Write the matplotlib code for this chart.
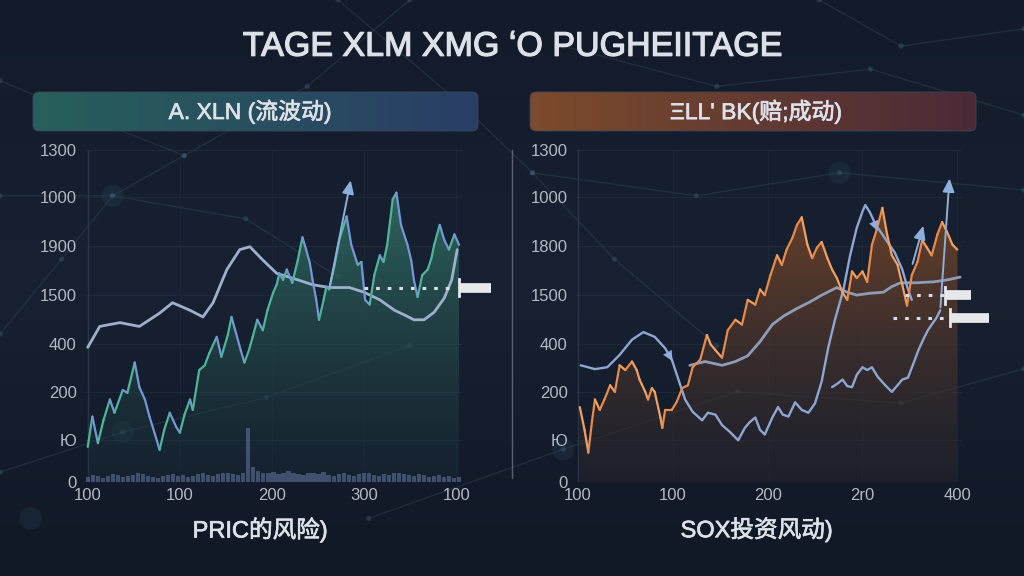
import numpy as np
import matplotlib
matplotlib.use("Agg")
import matplotlib.pyplot as plt
import matplotlib.patheffects as pe
from matplotlib.collections import LineCollection
from matplotlib.patches import FancyBboxPatch, Polygon
from matplotlib.colors import LinearSegmentedColormap

plt.rcParams["font.family"] = ["Liberation Sans", "Noto Sans CJK SC", "DejaVu Sans"]

# ---- text ----
title = "TAGE XLM XMG \u02BBO PUGHEIITAGE"
left_header = "A. XLN (流波动)"
right_header = "ΞLL' BK(赔;成动)"
left_footer = "PRIC的风险)"
right_footer = "SOX投资风动)"

y_ticks = [0, 44, 95, 146, 197, 249, 300, 350]
left_ylabels = ["0", "Ю", "200", "400", "1500", "1900", "1000", "1300"]
right_ylabels = ["0", "Ю", "200", "400", "1500", "1800", "1000", "1300"]
x_ticks = [0, 100, 200, 300, 400]
left_xlabels = ["100", "100", "200", "300", "100"]
right_xlabels = ["100", "100", "200", "2r0", "400"]

# ---- left panel data ----
left_price_x = [0, 5, 11, 17, 24, 29, 38, 43, 51, 56,
                62, 67, 73, 78, 83, 89, 96, 100, 105, 111,
                114, 121, 127, 132, 140, 145, 152, 156, 162, 166,
                170, 175, 179, 184, 190, 195, 201, 205, 208, 212,
                216, 222, 228, 233, 237, 241, 244, 248, 251, 256,
                259, 262, 268, 273, 278, 281, 286, 293, 297, 301,
                306, 311, 317, 321, 325, 331, 335, 340, 347, 351,
                354, 358, 363, 369, 373, 376, 382, 387, 392, 398,
                403]
left_price_y = [37, 69, 41, 65, 87, 73, 97, 94, 126, 100,
                87, 69, 50, 34, 55, 73, 58, 52, 71, 87,
                76, 118, 123, 136, 153, 132, 155, 174, 153, 139,
                126, 139, 153, 171, 160, 181, 199, 208, 220, 213,
                224, 210, 234, 258, 245, 231, 213, 192, 171, 192,
                206, 203, 229, 255, 271, 280, 250, 229, 232, 192,
                187, 218, 239, 232, 250, 298, 305, 271, 250, 234,
                213, 195, 218, 224, 236, 250, 271, 255, 245, 261,
                250]

left_trend_x = [0, 13, 35, 56, 78, 92, 111, 125, 136, 151,
                165, 176, 190, 205, 222, 244, 262, 284, 300, 317,
                333, 344, 354, 365, 376, 387, 395, 401]
left_trend_y = [142, 164, 168, 164, 178, 189, 181, 174, 189, 224,
                245, 248, 234, 220, 215, 208, 205, 205, 200, 192,
                181, 176, 171, 171, 179, 194, 213, 245]

left_volume = [5, 7, 6, 4, 6, 8, 7, 5, 6, 7,
               9, 8, 6, 5, 4, 6, 7, 8, 6, 7,
               5, 6, 8, 9, 7, 6, 8, 10, 9, 8,
               7, 9, 57, 16, 12, 10, 9, 11, 8, 10,
               12, 9, 8, 7, 10, 9, 8, 11, 7, 6,
               8, 9, 7, 6, 8, 10, 9, 7, 6, 8,
               7, 9, 10, 8, 7, 6, 8, 7, 5, 6,
               7, 5, 6, 4, 5]

left_arrow = [(262, 203), (286, 321)]
left_dotted = [(300, 395), 205]
left_tag = [(403, 438), 205]

# ---- right panel data ----
right_price_x = [2, 7, 11, 15, 18, 23, 28, 34, 39, 44,
                 50, 57, 62, 65, 71, 74, 78, 81, 87, 89,
                 92, 99, 104, 110, 116, 121, 129, 136, 140, 145,
                 152, 158, 166, 173, 179, 187, 192, 197, 203, 210,
                 215, 220, 226, 231, 236, 242, 247, 252, 257, 263,
                 268, 273, 279, 284, 289, 294, 300, 305, 310, 315,
                 321, 326, 331, 337, 342, 347, 352, 358, 363, 368,
                 373, 379, 384, 389, 395, 400]
right_price_y = [79, 55, 31, 65, 87, 76, 87, 102, 95, 123,
                 118, 127, 118, 108, 95, 87, 99, 95, 68, 57,
                 76, 76, 84, 99, 102, 121, 129, 155, 145, 139,
                 131, 160, 171, 166, 192, 187, 203, 197, 218, 239,
                 229, 245, 257, 271, 279, 250, 236, 247, 253, 236,
                 224, 215, 200, 192, 222, 215, 222, 211, 250, 266,
                 289, 261, 239, 229, 208, 186, 218, 232, 255, 247,
                 239, 261, 274, 264, 250, 245]

wave_x = [3, 18, 31, 44, 57, 69, 81, 92, 99, 108,
          113, 121, 131, 137, 145, 152, 160, 169, 176, 181,
          187, 192, 197, 205, 211, 216, 222, 229, 236, 243,
          250, 257, 264, 271, 280, 287, 294, 300, 303, 308,
          314, 321, 327, 334, 342, 348, 352]
wave_y = [123, 119, 121, 134, 150, 158, 153, 141, 129, 102,
          87, 74, 65, 73, 71, 60, 53, 44, 57, 63,
          68, 55, 50, 68, 79, 71, 69, 84, 76, 73,
          83, 106, 142, 171, 203, 239, 268, 285, 292, 284,
          271, 261, 252, 242, 224, 203, 192]

low_x = [268, 274, 279, 284, 289, 294, 300, 305, 310, 316,
         324, 331, 337, 342, 348, 353, 359, 364, 369, 378, 382]
low_y = [100, 104, 108, 101, 100, 113, 121, 118, 121, 111,
         102, 95, 102, 108, 110, 123, 139, 150, 160, 173, 181]

avg_x = [118, 134, 152, 166, 179, 192, 205, 217, 231, 245,
         257, 273, 284, 294, 308, 322, 331, 340, 356, 375,
         389, 403]
avg_y = [123, 127, 123, 127, 133, 148, 166, 175, 183, 190,
         197, 205, 200, 197, 199, 200, 206, 210, 210, 211,
         213, 216]

right_arrows = [[(382, 181), (392, 323)], [(352, 227), (365, 273)]]
right_heads = [[(92, 141), (101, 125)], [(308, 284), (317, 262)]]
right_dotted = [[(345, 387), 197], [(332, 387), 173]]
right_tags = [[(387, 414), 197], [(392, 433), 173]]

# ---- colours ----
BG = "#131a28"
TEXT = "#dde1e8"
TICK = "#b3b9c4"
CURVE = "#9eb0cc"
BLUE = "#7596d8"
TEAL = "#4fb59a"
ORANGE = "#e88a4a"

semi_fx = [pe.withStroke(linewidth=0.5, foreground=TEXT)]

fig = plt.figure(figsize=(10.24, 5.76), dpi=100)
fig.patch.set_facecolor(BG)

# background layer in figure fractions
bg = fig.add_axes([0, 0, 1, 1], zorder=0)
bg.axis("off")
vgrad = np.linspace(0, 1, 200).reshape(-1, 1)
bg.imshow(vgrad, extent=[0, 1, 0, 1], aspect="auto", origin="lower",
          cmap=LinearSegmentedColormap.from_list("bg", ["#111826", "#172131", "#131b2a"]))

net = [
    [(0.0, 0.42), (0.06, 0.55), (0.11, 0.66), (0.18, 0.73), (0.30, 0.85), (0.40, 1.0)],
    [(0.0, 0.66), (0.11, 0.66), (0.24, 0.62), (0.33, 0.52)],
    [(0.33, 1.0), (0.45, 0.82), (0.52, 0.70), (0.60, 0.55), (0.70, 0.40)],
    [(0.55, 0.92), (0.70, 0.85), (0.85, 0.88), (1.0, 0.80)],
    [(0.52, 0.70), (0.68, 0.66), (0.82, 0.70), (1.0, 0.67)],
    [(0.80, 1.0), (0.88, 0.92), (1.0, 0.95)],
    [(0.0, 0.18), (0.12, 0.25), (0.26, 0.31), (0.40, 0.40)],
    [(0.36, 0.10), (0.55, 0.22), (0.72, 0.32), (0.88, 0.30), (1.0, 0.36)],
    [(0.0, 0.86), (0.08, 0.80), (0.18, 0.73)],
]
for seg in net:
    xs, ys = zip(*seg)
    bg.plot(xs, ys, color="#3f6170", lw=0.9, alpha=0.28)
    bg.scatter(xs, ys, s=14, color="#4d8090", alpha=0.28, edgecolors="none")
glow = [(0.11, 0.66), (0.45, 0.82), (0.82, 0.70), (0.12, 0.25), (0.55, 0.22), (0.03, 0.10)]
gx, gy = zip(*glow)
bg.scatter(gx, gy, s=260, color="#3d7a8a", alpha=0.12, edgecolors="none")

# header bars
aspect = 1024 / 576


def header_bar(x0, x1, y0, y1, c_left, c_right):
    box = FancyBboxPatch((x0, y0), x1 - x0, y1 - y0,
                         boxstyle="round,pad=0,rounding_size=0.006",
                         mutation_aspect=aspect, facecolor="none",
                         edgecolor="#3b4658", lw=0.6, zorder=3)
    bg.add_patch(box)
    hgrad = np.linspace(0, 1, 256).reshape(1, -1)
    im = bg.imshow(hgrad, extent=[x0, x1, y0, y1], aspect="auto", zorder=2,
                   cmap=LinearSegmentedColormap.from_list("h", [c_left, c_right]))
    im.set_clip_path(box)


header_bar(0.0322, 0.4668, 0.7726, 0.8403, "#27605a", "#2a3e66")
header_bar(0.5176, 0.9531, 0.7726, 0.8403, "#7d4b2c", "#4a2a38")
bg.set_xlim(0, 1)
bg.set_ylim(0, 1)

fig.text(0.244, 0.806, left_header, ha="center", va="center", fontsize=16.5,
         color=TEXT, path_effects=semi_fx)
fig.text(0.738, 0.806, right_header, ha="center", va="center", fontsize=16.5,
         color=TEXT, path_effects=semi_fx)
fig.text(0.5, 0.918, title, ha="center", va="center", fontsize=24.5,
         color=TEXT, path_effects=[pe.withStroke(linewidth=0.9, foreground=TEXT)])
fig.text(0.254, 0.080, left_footer, ha="center", va="center", fontsize=17,
         color=TEXT, path_effects=semi_fx)
fig.text(0.739, 0.080, right_footer, ha="center", va="center", fontsize=17,
         color=TEXT, path_effects=semi_fx)

# separator
bg.plot([0.5, 0.5], [0.170, 0.740], color="#6b7282", lw=1.0, alpha=0.8)


def gradient_fill(ax, x, y, top, bottom):
    verts = [(x[0], 0)] + list(zip(x, y)) + [(x[-1], 0)]
    poly = Polygon(verts, closed=True, facecolor="none", edgecolor="none")
    ax.add_patch(poly)
    grad = np.linspace(0, 1, 256).reshape(-1, 1)
    cmap = LinearSegmentedColormap.from_list("f", [bottom, top])
    im = ax.imshow(grad, aspect="auto", cmap=cmap, origin="lower",
                   extent=[x[0], x[-1], 0, max(y)], zorder=1)
    im.set_clip_path(poly)


def slope_line(ax, x, y, c_up, c_down, lw=1.6):
    pts = np.column_stack([x, y])
    segs = np.stack([pts[:-1], pts[1:]], axis=1)
    dy = np.diff(np.asarray(y, dtype=float))
    cols = [c_up if d >= 0 else c_down for d in dy]
    ax.add_collection(LineCollection(segs, colors=cols, linewidths=lw, zorder=4,
                                     capstyle="round", joinstyle="round"))


def style_axes(ax, ylabels, xlabels, xlim):
    ax.set_facecolor("none")
    ax.set_xlim(*xlim)
    ax.set_ylim(0, 350)
    ax.set_yticks(y_ticks)
    ax.set_yticklabels(ylabels)
    ax.set_xticks(x_ticks)
    ax.set_xticklabels(xlabels)
    ax.tick_params(length=0, colors=TICK, labelsize=12, pad=4)
    ax.tick_params(axis="y", pad=6)
    for s in ax.spines.values():
        s.set_visible(False)
    for t in y_ticks[1:]:
        ax.axhline(t, color="#243044", lw=0.8, alpha=0.6, zorder=0)
    for t in x_ticks:
        ax.axvline(t, color="#243044", lw=0.8, alpha=0.4, zorder=0)
    ax.axvline(0, color="#2a3548", lw=1.0, zorder=0)


arrow_style = "-|>,head_length=0.8,head_width=0.35"

# ---- left panel ----
axl = fig.add_axes([0.0830, 0.1632, 0.368, 0.5764], zorder=1)
gradient_fill(axl, left_price_x, left_price_y, (0.20, 0.45, 0.40, 0.85), (0.10, 0.18, 0.22, 0.35))
vol_x = np.linspace(left_price_x[0], left_price_x[-1], len(left_volume))
axl.bar(vol_x, left_volume, width=4.6, color="#55648c", alpha=0.7, zorder=2)
axl.plot(left_trend_x, left_trend_y, color=CURVE, lw=2.0, zorder=3, solid_capstyle="round")
slope_line(axl, left_price_x, left_price_y, TEAL, BLUE)
axl.annotate("", xy=left_arrow[1], xytext=left_arrow[0], zorder=5,
             arrowprops=dict(arrowstyle=arrow_style, color="#8eaedb", lw=1.4))
axl.plot(left_dotted[0], [left_dotted[1]] * 2, color="#d9dde4", lw=2.2,
         linestyle=(0, (1.2, 2.6)), zorder=5)
axl.plot(left_tag[0], [left_tag[1]] * 2, color="#e6e8ec", lw=7, solid_capstyle="butt",
         clip_on=False, zorder=6)
axl.plot([left_tag[0][0]] * 2, [left_tag[1] - 9, left_tag[1] + 9], color="#e6e8ec", lw=2,
         clip_on=False, zorder=6)
style_axes(axl, left_ylabels, left_xlabels, (-3, 406))

# ---- right panel ----
axr = fig.add_axes([0.5625, 0.1632, 0.377, 0.5764], zorder=1)
gradient_fill(axr, right_price_x, right_price_y, (0.45, 0.27, 0.16, 0.9), (0.16, 0.15, 0.18, 0.45))
axr.plot(avg_x, avg_y, color="#8e9cb8", lw=2.0, zorder=3, solid_capstyle="round")
axr.plot(wave_x, wave_y, color="#8ea6d2", lw=1.7, zorder=3, solid_capstyle="round")
axr.plot(low_x, low_y, color="#8ea6d2", lw=1.7, zorder=3, solid_capstyle="round")
slope_line(axr, right_price_x, right_price_y, ORANGE, "#f0a060")
for a, b in right_arrows:
    axr.annotate("", xy=b, xytext=a, zorder=5,
                 arrowprops=dict(arrowstyle=arrow_style, color="#8eaedb", lw=1.4))
for a, b in right_heads:
    axr.annotate("", xy=b, xytext=a, zorder=5,
                 arrowprops=dict(arrowstyle="-|>,head_length=0.7,head_width=0.35",
                                 color="#8eaedb", lw=0.1))
for (xs, yv), (txs, tyv) in zip(right_dotted, right_tags):
    axr.plot(xs, [yv] * 2, color="#d9dde4", lw=2.2, linestyle=(0, (1.2, 2.6)), zorder=5)
    axr.plot(txs, [tyv] * 2, color="#e6e8ec", lw=7, solid_capstyle="butt",
             clip_on=False, zorder=6)
    axr.plot([txs[0]] * 2, [tyv - 9, tyv + 9], color="#e6e8ec", lw=2,
             clip_on=False, zorder=6)
style_axes(axr, right_ylabels, right_xlabels, (-2, 405))

fig.savefig("out.png", dpi=100, facecolor=fig.get_facecolor())
